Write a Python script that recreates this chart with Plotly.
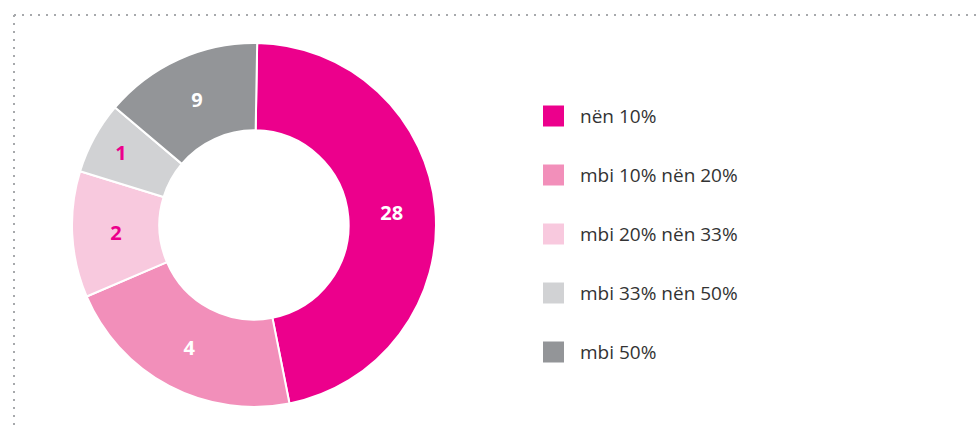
import plotly.graph_objects as go

categories = ["nën 10%", "mbi 10% nën 20%", "mbi 20% nën 33%", "mbi 33% nën 50%", "mbi 50%"]
shares = [46.6, 21.7, 11.2, 6.4, 14.1]
shown_values = ["28", "4", "2", "1", "9"]
colors = ["#EC008C", "#F28FBA", "#F8C9DE", "#D1D2D4", "#939598"]
text_colors = ["#FFFFFF", "#FFFFFF", "#EC008C", "#EC008C", "#FFFFFF"]

W, H = 980, 425
FONT = "Open Sans, DejaVu Sans, sans-serif"
fig = go.Figure()
fig.add_trace(go.Pie(
    labels=categories,
    values=shares,
    text=shown_values,
    textinfo="text",
    textposition="inside",
    insidetextorientation="horizontal",
    textfont=dict(family=FONT, size=20, color=text_colors, weight="bold"),
    marker=dict(colors=colors, line=dict(color="#FFFFFF", width=2)),
    hole=0.52,
    sort=False,
    direction="clockwise",
    rotation=1,
    domain=dict(x=[72 / W, 436 / W], y=[(H - 407) / H, (H - 43) / H]),
    showlegend=False,
))

shapes = [
    dict(type="line", xref="paper", yref="paper", x0=14 / W, x1=1.0, y0=(H - 15) / H, y1=(H - 15) / H,
         line=dict(color="#A7A9AC", width=2, dash="2px,6px")),
    dict(type="line", xref="paper", yref="paper", x0=14 / W, x1=14 / W, y0=(H - 15) / H, y1=0,
         line=dict(color="#A7A9AC", width=2, dash="2px,6px")),
]
annotations = []
row0, step = 116, 59
for i, (cat, col) in enumerate(zip(categories, colors)):
    yc = row0 + i * step
    shapes.append(dict(type="rect", xref="paper", yref="paper",
                       x0=543 / W, x1=564 / W, y0=(H - yc - 10.5) / H, y1=(H - yc + 10.5) / H,
                       fillcolor=col, line=dict(width=0)))
    annotations.append(dict(xref="paper", yref="paper", x=578 / W, y=(H - yc) / H,
                            xanchor="left", yanchor="middle", showarrow=False, text=cat,
                            font=dict(family=FONT, size=19, color="#333333")))

fig.update_layout(
    width=W, height=H,
    margin=dict(l=0, r=0, t=0, b=0),
    paper_bgcolor="white", plot_bgcolor="white",
    shapes=shapes, annotations=annotations,
)
fig.write_html("out.html", config={"displayModeBar": False},
               post_script="document.body.style.margin='0';document.body.style.overflow='hidden';")
